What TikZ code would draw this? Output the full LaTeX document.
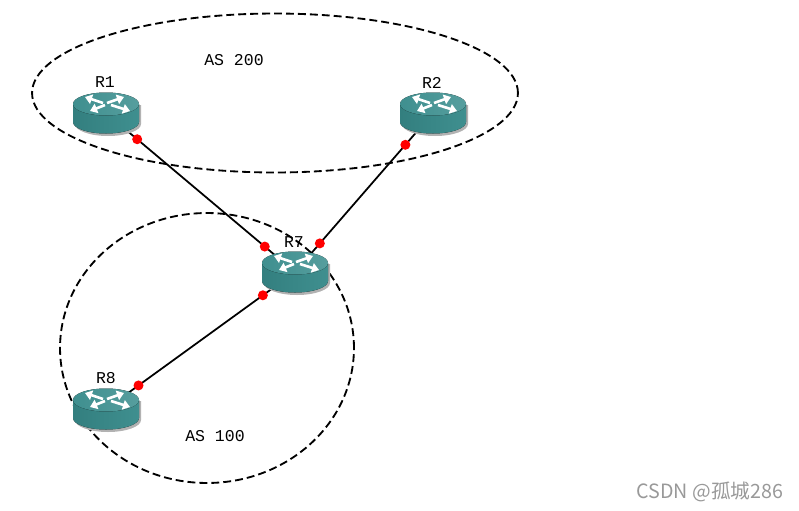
\documentclass[tikz,border=0pt]{standalone}
\usepackage{fontspec}
\newfontfamily\labelfont{Liberation Mono}
\newfontfamily\markfont{Noto Sans CJK SC}
\usetikzlibrary{shapes.geometric,backgrounds,arrows.meta}
\definecolor{tealbody}{HTML}{3F8F8F}
\definecolor{tealdark}{HTML}{337F7F}
\definecolor{tealtop}{HTML}{569E9E}
\newcommand{\routericon}{%
  \begin{scope}[shift={(path picture bounding box.center)}]
    \fill[gray!60] (-31,-8) -- (-31,11) arc[start angle=180,end angle=0,x radius=33,y radius=12]
      -- (35,-8) -- cycle;
    \fill[left color=tealdark,right color=tealbody]
      (-33,-9) -- (-33,9) arc[start angle=180,end angle=0,x radius=33,y radius=11.5]
      -- (33,-9) -- cycle;
    \fill[left color=tealbody,right color=tealtop] (0,-9) ellipse[x radius=33,y radius=11.5];
    \foreach \tipx/\tipy/\endx/\endy in {-21/-16/-3/-10, 18/-16/1/-10, -16/-2/-1/-8, 24/-2/5/-8}
      \draw[white,line width=1.5pt,-{Triangle[length=4pt,width=5.5pt]}] (\endx,\endy) -- (\tipx,\tipy);
  \end{scope}}
\begin{document}
\begin{tikzpicture}[
    x=0.02cm, y=-0.02cm,
    router/.style={inner sep=0pt, minimum width=1.5cm, minimum height=1cm,
                   path picture={\routericon}},
    area/.style={draw, dash pattern=on 4.5pt off 2.3pt, ellipse, inner sep=0pt, line width=1.05pt},
    lien/.style={draw, line width=1pt},
    port/.style={circle, fill=red, inner sep=0pt, minimum size=0.2cm},
    etiquette/.style={font=\labelfont\fontsize{9.4}{11}\selectfont, text=black}
  ]
  \useasboundingbox (0,0) rectangle (799,511);

  \node[router] (r1) at (106,113) {};
  \node[router] (r2) at (433,113) {};
  \node[router] (r7) at (295,272) {};
  \node[router] (r8) at (106,409) {};

  \node[etiquette] (l1) at (105,82)  {R1};
  \node[etiquette] (l2) at (432,83)  {R2};
  \node[etiquette] (l7) at (294,242) {R7};
  \node[etiquette] (l8) at (106,378) {R8};
  \node[etiquette] (as200) at (234,60)  {AS 200};
  \node[etiquette] (as100) at (215,436) {AS 100};

  \node[text=black!40, font=\markfont\fontsize{11.2}{13}\selectfont] (mark) at (710,492) {CSDN @孤城286};

  \begin{scope}[on background layer]
    \node[area, minimum width=9.72cm, minimum height=3.18cm] (zone200) at (275,93) {};
    \node[area, minimum width=5.88cm, minimum height=5.4cm] (zone100) at (207,348) {};
    \path[lien] (r1.center) -- (r7.center)
      node[port,pos=0.165] (p1) {} node[port,pos=0.84] (p2) {};
    \path[lien] (r2.center) -- (r7.center)
      node[port,pos=0.2] (p3) {} node[port,pos=0.82] (p4) {};
    \path[lien] (r8.center) -- (r7.center)
      node[port,pos=0.172] (p5) {} node[port,pos=0.83] (p6) {};
  \end{scope}
\end{tikzpicture}
\end{document}
